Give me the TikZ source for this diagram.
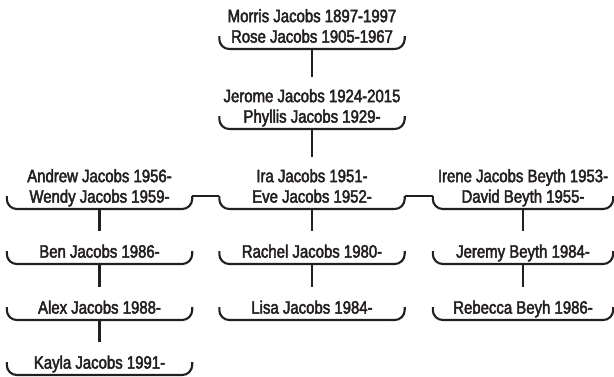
\documentclass[tikz,border=0pt]{standalone}
\usepackage{fontspec}
\setmainfont[FakeStretch=0.83,FakeBold=2.5]{Liberation Sans}
\usepackage{xcolor}
\definecolor{inkcolor}{HTML}{231F20}

\tikzset{
  person/.style={inner sep=0pt, minimum width=185pt, align=center, anchor=south,
    text=inkcolor, font=\fontsize{18}{20.5}\selectfont,
    execute at begin node=\strut, execute at end node=\strut},
  narrow/.style={minimum width=180pt},
  bracket/.style={draw=inkcolor, line width=2.1pt, rounded corners=10pt},
  link/.style={draw=inkcolor, line width=2.1pt, shorten >=12pt},
}

\begin{document}
\begin{tikzpicture}[x=1pt,y=1pt]
    \useasboundingbox (0,0) rectangle (614,376);

    \node [person] (morris) at (312,327) {Morris Jacobs 1897-1997\\Rose Jacobs 1905-1967};
    \node [person] (jerome) at (312,247) {Jerome Jacobs 1924-2015\\Phyllis Jacobs 1929-};

    \node [person] (andrew) at (99.5,167) {Andrew Jacobs 1956-\\Wendy Jacobs 1959-};
    \node [person] (ira) at (312,167) {Ira Jacobs 1951-\\Eve Jacobs 1952-};
    \node [person,narrow] (irene) at (523,167) {Irene Jacobs Beyth 1953-\\David Beyth 1955-};

    \node [person] (ben) at (99.5,112) {Ben Jacobs 1986-};
    \node [person] (rachel) at (312,112) {Rachel Jacobs 1980-};
    \node [person,narrow] (jeremy) at (523,112) {Jeremy Beyth 1984-};

    \node [person] (alex) at (99.5,56) {Alex Jacobs 1988-};
    \node [person] (lisa) at (312,56) {Lisa Jacobs 1984-};
    \node [person,narrow] (rebecca) at (523,56) {Rebecca Beyh 1986-};

    \node [person] (kayla) at (99.5,1) {Kayla Jacobs 1991-};

    % brackets under each couple / child
    \foreach \n in {morris,jerome,andrew,ira,irene,ben,rachel,jeremy,alex,lisa,rebecca,kayla}
      \draw [bracket] ([yshift=13pt]\n.south west) coordinate (\n-l)
        |- (\n.south east) -- ([yshift=13pt]\n.south east) coordinate (\n-r);

    % descent lines
    \draw [link] (morris.south) -- (jerome.north);
    \draw [link] (jerome.south) -- (ira.north);
    \draw [link] (andrew.south) -- (ben.north);
    \draw [link] (ben.south) -- (alex.north);
    \draw [link] (alex.south) -- (kayla.north);
    \draw [link] (ira.south) -- (rachel.north);
    \draw [link] (rachel.south) -- (lisa.north);
    \draw [link] (irene.south) -- (jeremy.north);
    \draw [link] (jeremy.south) -- (rebecca.north);

    % siblings
    \draw [link, shorten >=0pt] (andrew-r) -- (ira-l);
    \draw [link, shorten >=0pt] (ira-r) -- (irene-l);
\end{tikzpicture}
\end{document}
